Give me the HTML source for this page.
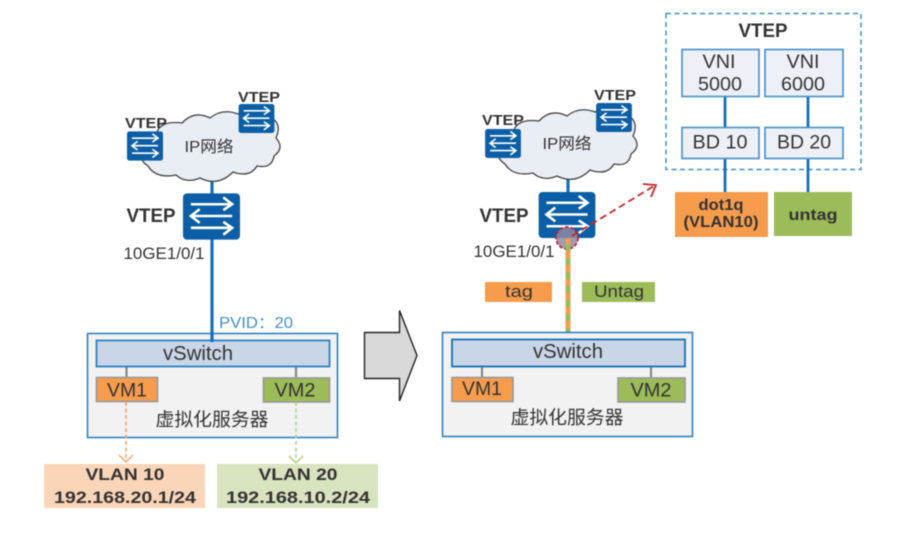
<!DOCTYPE html>
<html>
<head>
<meta charset="utf-8">
<style>
html,body{margin:0;padding:0;background:#fff;width:912px;height:536px;overflow:hidden}
svg{display:block;filter:blur(.4px)}
text{font-family:"Liberation Sans","Noto Sans CJK SC",sans-serif;fill:#333;text-anchor:middle}
.b{font-weight:bold}
</style>
</head>
<body>
<svg width="912" height="536" viewBox="0 0 912 536" xmlns="http://www.w3.org/2000/svg">
<defs>
<symbol id="sw" viewBox="0 0 58 47">
<rect width="58" height="47" rx="4" fill="#0c5fa6"/>
<g fill="none" stroke="#fff" stroke-width="2.6">
<path d="M8 11H49M41 4L50 11L41 17"/>
<path d="M50 23H9M17 16L8 23L17 30"/>
<path d="M8 35H49M41 29L50 35L41 42"/>
</g>
</symbol>
<path id="cl" d="M148 166Q136 158 146 150Q140 138 156 136Q158 120 182 123Q194 110 210 118Q222 108 238 114Q256 104 268 116Q283 122 276 138Q285 148 274 156Q272 169 257 166Q250 178 233 172Q218 187 200 178Q186 184 176 175Q156 179 148 166Z" fill="#e9edf4" stroke="#444" stroke-width="1.3"/>
</defs>

<!-- LEFT -->
<line x1="212" y1="178" x2="212" y2="341" stroke="#1470b8" stroke-width="3.200"/>
<use href="#cl"/>
<use href="#sw" x="127" y="131" width="36" height="30"/>
<use href="#sw" x="238" y="104" width="37" height="29"/>
<use href="#sw" x="183" y="193" width="57" height="47"/>
<text x="146" y="128" font-size="15" class="b" textLength="42" lengthAdjust="spacingAndGlyphs">VTEP</text>
<text x="259" y="102" font-size="15" class="b" textLength="42" lengthAdjust="spacingAndGlyphs">VTEP</text>
<text x="209" y="152" font-size="16" textLength="49" lengthAdjust="spacingAndGlyphs">IP网络</text>
<text x="151" y="222" font-size="19" class="b" textLength="49" lengthAdjust="spacingAndGlyphs">VTEP</text>
<text x="164" y="259" font-size="16.500" textLength="81" lengthAdjust="spacingAndGlyphs">10GE1/0/1</text>
<text x="256" y="328" font-size="15.500" style="fill:#3f8fd0" textLength="74" lengthAdjust="spacingAndGlyphs">PVID：20</text>

<rect x="87.500" y="333.500" width="250" height="104" fill="#f2f2f2" stroke="#2e82c4" stroke-width="1.600"/>
<line x1="126.500" y1="367" x2="126.500" y2="378" stroke="#7f7f7f" stroke-width="2"/>
<line x1="296" y1="367" x2="296" y2="378" stroke="#7f7f7f" stroke-width="2"/>
<rect x="96.500" y="340.500" width="233" height="26" fill="#c9d6e7" stroke="#2e82c4" stroke-width="1.800"/>
<line x1="212" y1="333" x2="212" y2="342" stroke="#1470b8" stroke-width="3.200"/>
<text x="198" y="360" font-size="20" textLength="70" lengthAdjust="spacingAndGlyphs">vSwitch</text>
<rect x="96.500" y="377.500" width="61" height="24" fill="#f79c4d" stroke="#9a9a9a" stroke-width="1.700"/>
<rect x="263.500" y="378" width="66" height="24" fill="#9cbb59" stroke="#9a9a9a" stroke-width="1.700"/>
<text x="127" y="396.500" font-size="19.500" textLength="40" lengthAdjust="spacingAndGlyphs">VM1</text>
<text x="295" y="396.500" font-size="19.500" textLength="41" lengthAdjust="spacingAndGlyphs">VM2</text>
<text x="212" y="426" font-size="18.500" textLength="113" lengthAdjust="spacingAndGlyphs">虚拟化服务器</text>

<path d="M126 402V460" fill="none" stroke="#f4a76c" stroke-width="1.600" stroke-dasharray="4 2.500"/>
<path d="M119 455L126 462L133 455" fill="none" stroke="#f4a76c" stroke-width="1.500"/>
<path d="M296 402V461" fill="none" stroke="#b6cf88" stroke-width="1.600" stroke-dasharray="4 2.500"/>
<path d="M289 456L296 463L303 456" fill="none" stroke="#b6cf88" stroke-width="1.500"/>
<rect x="44" y="464" width="161" height="44" fill="#fbd5b7"/>
<rect x="217" y="464" width="161" height="44" fill="#d8e3bf"/>
<text x="125" y="480" font-size="17" class="b" textLength="79" lengthAdjust="spacingAndGlyphs">VLAN 10</text>
<text x="125" y="503" font-size="17" class="b" textLength="142" lengthAdjust="spacingAndGlyphs">192.168.20.1/24</text>
<text x="298" y="480" font-size="17" class="b" textLength="79" lengthAdjust="spacingAndGlyphs">VLAN 20</text>
<text x="298" y="503" font-size="17" class="b" textLength="144" lengthAdjust="spacingAndGlyphs">192.168.10.2/24</text>

<!-- BIG ARROW -->
<path d="M364.500 332.500H399.500V310.500L417 355.500L399.500 401V378.500H364.500Z" fill="#d9d9d9" stroke="#222" stroke-width="1.400"/>

<!-- RIGHT -->
<line x1="568" y1="176" x2="568" y2="194" stroke="#1470b8" stroke-width="3.200"/>
<use href="#cl" transform="translate(357,-2)"/>
<use href="#sw" x="485" y="129" width="36" height="29"/>
<use href="#sw" x="596" y="103" width="36" height="29"/>
<use href="#sw" x="538" y="192" width="58" height="46"/>
<text x="503" y="125" font-size="15" class="b" textLength="42" lengthAdjust="spacingAndGlyphs">VTEP</text>
<text x="615" y="100" font-size="15" class="b" textLength="42" lengthAdjust="spacingAndGlyphs">VTEP</text>
<text x="567" y="149" font-size="16" textLength="49" lengthAdjust="spacingAndGlyphs">IP网络</text>
<text x="504" y="222" font-size="19" class="b" textLength="49" lengthAdjust="spacingAndGlyphs">VTEP</text>
<text x="514" y="257" font-size="16.500" textLength="81" lengthAdjust="spacingAndGlyphs">10GE1/0/1</text>

<circle cx="567" cy="238" r="11" fill="#8d8aa6" fill-opacity=".85" stroke="#c9252b" stroke-width="1.800" stroke-dasharray="3.500 2"/>
<line x1="568" y1="238" x2="568" y2="333" stroke="#f79c4d" stroke-width="5"/>
<line x1="568" y1="244" x2="568" y2="333" stroke="#9cbb59" stroke-width="5" stroke-dasharray="7 7"/>
<path d="M572 236L654 186" fill="none" stroke="#c9252b" stroke-width="1.800" stroke-dasharray="7 4"/>
<path d="M643 184L656 185L651 197" fill="none" stroke="#c9252b" stroke-width="1.800"/>

<rect x="485" y="282" width="67" height="20" fill="#f79c4d"/>
<rect x="582" y="282" width="73" height="20" fill="#9cbb59"/>
<text x="519" y="297" font-size="17" textLength="28" lengthAdjust="spacingAndGlyphs">tag</text>
<text x="619" y="297" font-size="17" textLength="50" lengthAdjust="spacingAndGlyphs">Untag</text>

<rect x="442.500" y="332.500" width="250" height="104" fill="#f2f2f2" stroke="#2e82c4" stroke-width="1.600"/>
<line x1="482" y1="367" x2="482" y2="378" stroke="#7f7f7f" stroke-width="2"/>
<line x1="651" y1="367" x2="651" y2="378" stroke="#7f7f7f" stroke-width="2"/>
<rect x="452" y="339.500" width="233" height="27" fill="#c9d6e7" stroke="#1470b8" stroke-width="1.800"/>
<text x="568" y="358" font-size="20" textLength="70" lengthAdjust="spacingAndGlyphs">vSwitch</text>
<rect x="452" y="377.500" width="61" height="24" fill="#f79c4d" stroke="#9a9a9a" stroke-width="1.700"/>
<rect x="618" y="378" width="67" height="24" fill="#9cbb59" stroke="#9a9a9a" stroke-width="1.700"/>
<text x="482" y="395" font-size="19.500" textLength="40" lengthAdjust="spacingAndGlyphs">VM1</text>
<text x="651" y="396.500" font-size="19.500" textLength="41" lengthAdjust="spacingAndGlyphs">VM2</text>
<text x="567" y="424" font-size="18.500" textLength="113" lengthAdjust="spacingAndGlyphs">虚拟化服务器</text>

<!-- VTEP PANEL -->
<rect x="666" y="13.500" width="195" height="156" fill="#fff" stroke="#3f8fc6" stroke-width="1.500" stroke-dasharray="5 3.500"/>
<line x1="725" y1="97" x2="725" y2="192" stroke="#1470b8" stroke-width="2.800"/>
<line x1="808" y1="97" x2="808" y2="192" stroke="#1470b8" stroke-width="2.800"/>
<rect x="682" y="49.500" width="77" height="47" fill="#edf1f7" stroke="#4c94cc" stroke-width="1.700"/>
<rect x="765" y="49.500" width="78" height="47" fill="#edf1f7" stroke="#4c94cc" stroke-width="1.700"/>
<rect x="682" y="127.500" width="77" height="31" fill="#edf1f7" stroke="#4c94cc" stroke-width="1.700"/>
<rect x="765" y="127.500" width="78" height="31" fill="#edf1f7" stroke="#4c94cc" stroke-width="1.700"/>
<text x="763" y="37" font-size="19" class="b" textLength="49" lengthAdjust="spacingAndGlyphs">VTEP</text>
<text x="719" y="68" font-size="19.500" textLength="33" lengthAdjust="spacingAndGlyphs">VNI</text>
<text x="720" y="90.500" font-size="19.500" textLength="44" lengthAdjust="spacingAndGlyphs">5000</text>
<text x="803" y="68" font-size="19.500" textLength="33" lengthAdjust="spacingAndGlyphs">VNI</text>
<text x="803" y="90.500" font-size="19.500" textLength="44" lengthAdjust="spacingAndGlyphs">6000</text>
<text x="720" y="148.500" font-size="19.500" textLength="55" lengthAdjust="spacingAndGlyphs">BD 10</text>
<text x="804" y="148.500" font-size="19.500" textLength="54" lengthAdjust="spacingAndGlyphs">BD 20</text>

<rect x="675" y="192" width="93" height="45" fill="#f79c4d"/>
<rect x="774" y="192" width="78" height="44" fill="#9cbb59"/>
<text x="721" y="210" font-size="15.500" class="b" textLength="45" lengthAdjust="spacingAndGlyphs">dot1q</text>
<text x="721" y="227" font-size="15.500" class="b" textLength="75" lengthAdjust="spacingAndGlyphs">(VLAN10)</text>
<text x="813" y="220" font-size="15.500" class="b" textLength="49" lengthAdjust="spacingAndGlyphs">untag</text>
</svg>
</body>
</html>
